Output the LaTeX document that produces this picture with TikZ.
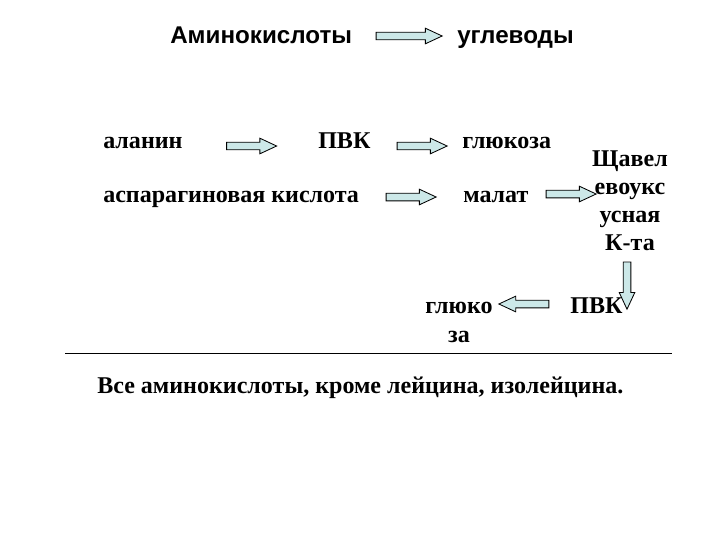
\documentclass[tikz,border=0pt]{standalone}
\usepackage{fontspec}
\setmainfont{Liberation Serif}
\setsansfont{Liberation Sans}
\usetikzlibrary{shapes.arrows}
\definecolor{arrowblue}{RGB}{204,232,232}

\begin{document}
\begin{tikzpicture}[x=0.025cm, y=-0.025cm,
  txt/.style={inner sep=0pt, anchor=base west,
              font=\fontsize{17.1}{20.5}\selectfont\bfseries},
  ttl/.style={inner sep=0pt, anchor=base west,
              font=\fontsize{17.2}{21}\selectfont\sffamily\bfseries},
  blk/.style={single arrow, draw, fill=arrowblue, line width=0.6pt,
              inner xsep=0pt, inner ysep=0.085cm,
              single arrow head extend=0.1cm,
              single arrow tip angle=50, minimum height=1.25cm}
]
\useasboundingbox (0,0) rectangle (720,540);
% header
\node[ttl] (amino) at (170,43) {Аминокислоты};
\node[ttl] (carb) at (457,43) {углеводы};
\node[blk, minimum height=1.65cm] (ar1) at (405,36) {};
% alanine row
\node[txt] (ala) at (103,148) {аланин};
\node[txt] (pvk1) at (318,148) {ПВК};
\node[txt] (glc1) at (462,148) {глюкоза};
\node[blk] (ar2) at (247.5,146) {};
\node[blk] (ar3) at (418,146) {};
% aspartate row
\node[txt] (asp) at (103,202) {аспарагиновая кислота};
\node[txt] (mal) at (463,202) {малат};
\node[blk] (ar4) at (407,197) {};
\node[blk] (ar5) at (567,194) {};
\node[txt, anchor=base, align=center, font=\fontsize{17.1}{19.9}\selectfont\bfseries]
  (oxa) at (630,250) {Щавел\\евоукс\\усная\\К-та};
\node[blk, rotate=-90, minimum height=1.18cm] (ar6) at (627,281.5) {};
\node[txt] (pvk2) at (570,313) {ПВК};
\node[blk, rotate=180] (ar7) at (528,304) {};
\node[txt, anchor=base, align=center] (glc2) at (459,342) {глюко\\за};
% rule and note
\coordinate (l) at (65,353);
\coordinate (r) at (672,353);
\draw[line width=0.7pt] (l) -- (r);
\node[txt] (note) at (97,393) {Все аминокислоты, кроме лейцина, изолейцина.};
\end{tikzpicture}
\end{document}
